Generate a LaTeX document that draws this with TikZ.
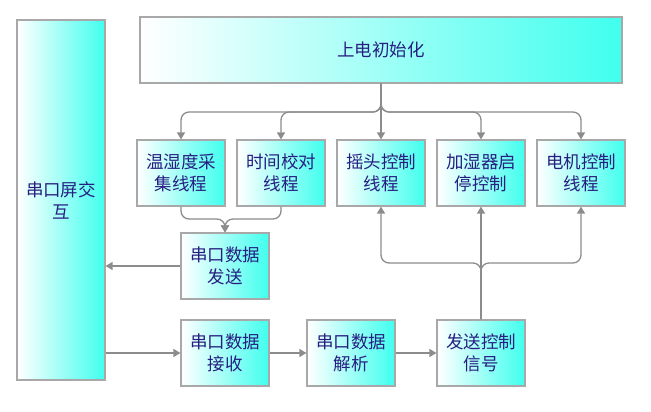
\documentclass[tikz,border=0pt]{standalone}
\usepackage{fontspec}
\newfontfamily\cjk{Noto Sans CJK SC}
\usetikzlibrary{arrows.meta}
\definecolor{boxcyan}{RGB}{64,255,238}
\definecolor{edgegray}{RGB}{168,168,168}
\definecolor{linegray}{RGB}{140,140,140}
\definecolor{txtblue}{RGB}{40,30,130}
\begin{document}
\begin{tikzpicture}[x=1pt,y=-1pt,
  box/.style={draw=edgegray,line width=1.2pt,left color=white,right color=boxcyan,
    inner sep=0pt,align=center,text=txtblue,minimum width=88pt,minimum height=66pt,
    font=\cjk\fontsize{17.5}{22}\selectfont},
  conn/.style={draw=linegray,line width=1.3pt,-{Triangle[length=7pt,width=8pt]}},
  brace/.style={conn,rounded corners=8pt}]
\useasboundingbox (0,0) rectangle (651,412);
\node[box,minimum height=360pt] (left) at (61,200) {串口屏交\\互};
\node[box,minimum width=482pt] (top) at (381,50) {上电初始化};
\node[box] (b1) at (181,173) {温湿度采\\集线程};
\node[box] (b2) at (281,173) {时间校对\\线程};
\node[box] (b3) at (381,173) {摇头控制\\线程};
\node[box] (b4) at (481,173) {加湿器启\\停控制};
\node[box] (b5) at (581,173) {电机控制\\线程};
\node[box] (send) at (225,266) {串口数据\\发送};
\node[box] (recv) at (225,353) {串口数据\\接收};
\node[box] (parse) at (351,353) {串口数据\\解析};
\node[box] (ctl) at (481,353) {发送控制\\信号};
\coordinate (tj) at (381,112);
\coordinate (sj) at (225,219);
\coordinate (cj) at (481,263);
% top fan-out
\draw[brace] (top.south) -- (tj) -| (b1.north);
\draw[brace] (top.south) -- (tj) -| (b2.north);
\draw[conn] (top.south) -- (b3.north);
\draw[brace] (top.south) -- (tj) -| (b4.north);
\draw[brace] (top.south) -- (tj) -| (b5.north);
% merge to send
\draw[brace] (b1.south) |- (sj) -- (send.north);
\draw[brace] (b2.south) |- (sj) -- (send.north);
% send / receive
\draw[conn] (send.west) -- (left.east |- send.west);
\draw[conn] (left.east |- recv.west) -- (recv.west);
\draw[conn] (recv.east) -- (parse.west);
\draw[conn] (parse.east) -- (ctl.west);
% control fan-out
\draw[brace] (ctl.north) -- (cj) -| (b3.south);
\draw[conn] (ctl.north) -- (b4.south);
\draw[brace] (ctl.north) -- (cj) -| (b5.south);
\end{tikzpicture}
\end{document}
